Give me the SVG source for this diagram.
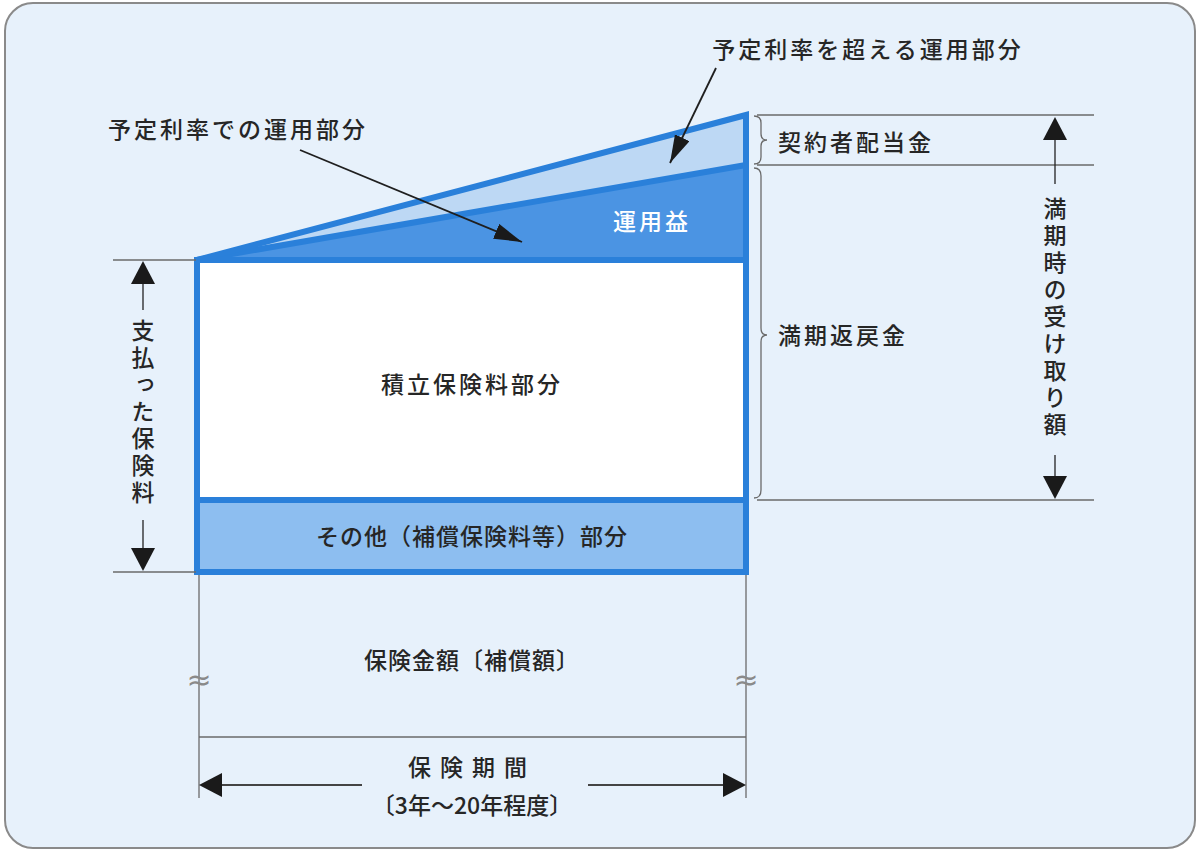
<svg xmlns="http://www.w3.org/2000/svg" width="1200" height="853" viewBox="0 0 1200 853">
<style>
.t{font-family:"Noto Sans CJK JP","Noto Sans CJK SC",sans-serif;fill:#262626;font-size:23px;font-weight:500;letter-spacing:3px}
.c{text-anchor:middle}
.v{writing-mode:vertical-rl;text-anchor:middle;letter-spacing:4px}
.thin{stroke:#6a6a6a;stroke-width:1.3;fill:none}
.blue{stroke:#2a80da;stroke-width:6;stroke-linejoin:miter}
.ptr{stroke:#1f1f1f;stroke-width:1.8;fill:none}
.head{fill:#1a1a1a}
.brk{font-family:"DejaVu Sans",sans-serif;font-size:30px;fill:#8a8a8a;text-anchor:middle}
</style>
<defs>
<marker id="ah" markerUnits="userSpaceOnUse" markerWidth="30" markerHeight="18" refX="28" refY="8" orient="auto">
<path d="M0,0 L28,8 L0,16 Z" fill="#1a1a1a"/>
</marker>
</defs>
<rect x="5" y="3" width="1190" height="845" rx="28" fill="#e7f1fb" stroke="#8a8a8a" stroke-width="2"/>

<g id="profit">
<polygon points="197,260 746,115 746,260" fill="#4b94e3"/>
<polygon points="197,260 746,115 746,165" fill="#bdd8f4"/>
<line x1="746" y1="165" x2="197" y2="260" class="blue"/>
<polygon points="197,260 746,115 746,260" fill="none" class="blue"/>
<text x="652" y="230" class="t c" style="fill:#ffffff">運用益</text>
</g>
<g id="reserve">
<rect x="197" y="260" width="549" height="240" fill="#ffffff" class="blue"/>
<text x="472" y="393" class="t c">積立保険料部分</text>
</g>
<g id="other">
<rect x="197" y="500" width="549" height="72" fill="#8dbef0" class="blue"/>
<text x="472" y="545" class="t c" style="letter-spacing:1px">その他（補償保険料等）部分</text>
</g>

<g id="labels">
<text x="868" y="58" class="t c">予定利率を超える運用部分</text>
<text x="238" y="138" class="t c">予定利率での運用部分</text>
<text x="778" y="151" class="t">契約者配当金</text>
<text x="778" y="344" class="t">満期返戻金</text>
<text x="472" y="669" class="t c" style="letter-spacing:1px">保険金額〔補償額〕</text>
<text x="472" y="776" class="t c" style="letter-spacing:9px">保険期間</text>
<text x="472" y="814" class="t c" style="letter-spacing:0px">〔3年～20年程度〕</text>
<text x="1055" y="318" class="t v">満期時の受け取り額</text>
<text x="143" y="413" class="t v">支払った保険料</text>
</g>

<g id="connectors">
<line x1="300" y1="150" x2="522" y2="242" class="ptr" marker-end="url(#ah)"/>
<line x1="716" y1="68" x2="670" y2="163" class="ptr" marker-end="url(#ah)"/>
<path class="thin" d="M754,116 Q761,116 761,123 L761,134 Q761,140 767,140 Q761,140 761,146 L761,157 Q761,164 754,164"/>
<path class="thin" d="M754,168 Q761,168 761,176 L761,328 Q761,335 767,335 Q761,335 761,342 L761,490 Q761,498 754,498"/>
<line x1="757" y1="115" x2="1094" y2="115" class="thin"/>
<line x1="757" y1="165" x2="1094" y2="165" class="thin"/>
<line x1="757" y1="500" x2="1094" y2="500" class="thin"/>
<line x1="1055" y1="138" x2="1055" y2="184" class="thin" style="stroke:#222"/>
<polygon points="1055,117 1043,140 1067,140" class="head"/>
<line x1="1055" y1="455" x2="1055" y2="480" class="thin" style="stroke:#222"/>
<polygon points="1055,499 1043,476 1067,476" class="head"/>
<line x1="113" y1="260" x2="196" y2="260" class="thin"/>
<line x1="113" y1="572" x2="196" y2="572" class="thin"/>
<line x1="143" y1="282" x2="143" y2="310" class="thin" style="stroke:#222"/>
<polygon points="143,261 131,284 155,284" class="head"/>
<line x1="143" y1="520" x2="143" y2="550" class="thin" style="stroke:#222"/>
<polygon points="143,571 131,548 155,548" class="head"/>
<line x1="199" y1="575" x2="199" y2="798" class="thin"/>
<line x1="746" y1="575" x2="746" y2="798" class="thin"/>
<line x1="199" y1="737" x2="746" y2="737" class="thin"/>
<text x="199" y="690" class="brk">≈</text>
<text x="746" y="690" class="brk">≈</text>
<line x1="218" y1="785" x2="362" y2="785" class="thin" style="stroke:#444;stroke-width:2"/>
<polygon points="199,785 222,773 222,797" class="head"/>
<line x1="588" y1="785" x2="727" y2="785" class="thin" style="stroke:#444;stroke-width:2"/>
<polygon points="746,785 723,773 723,797" class="head"/>
</g>
</svg>
